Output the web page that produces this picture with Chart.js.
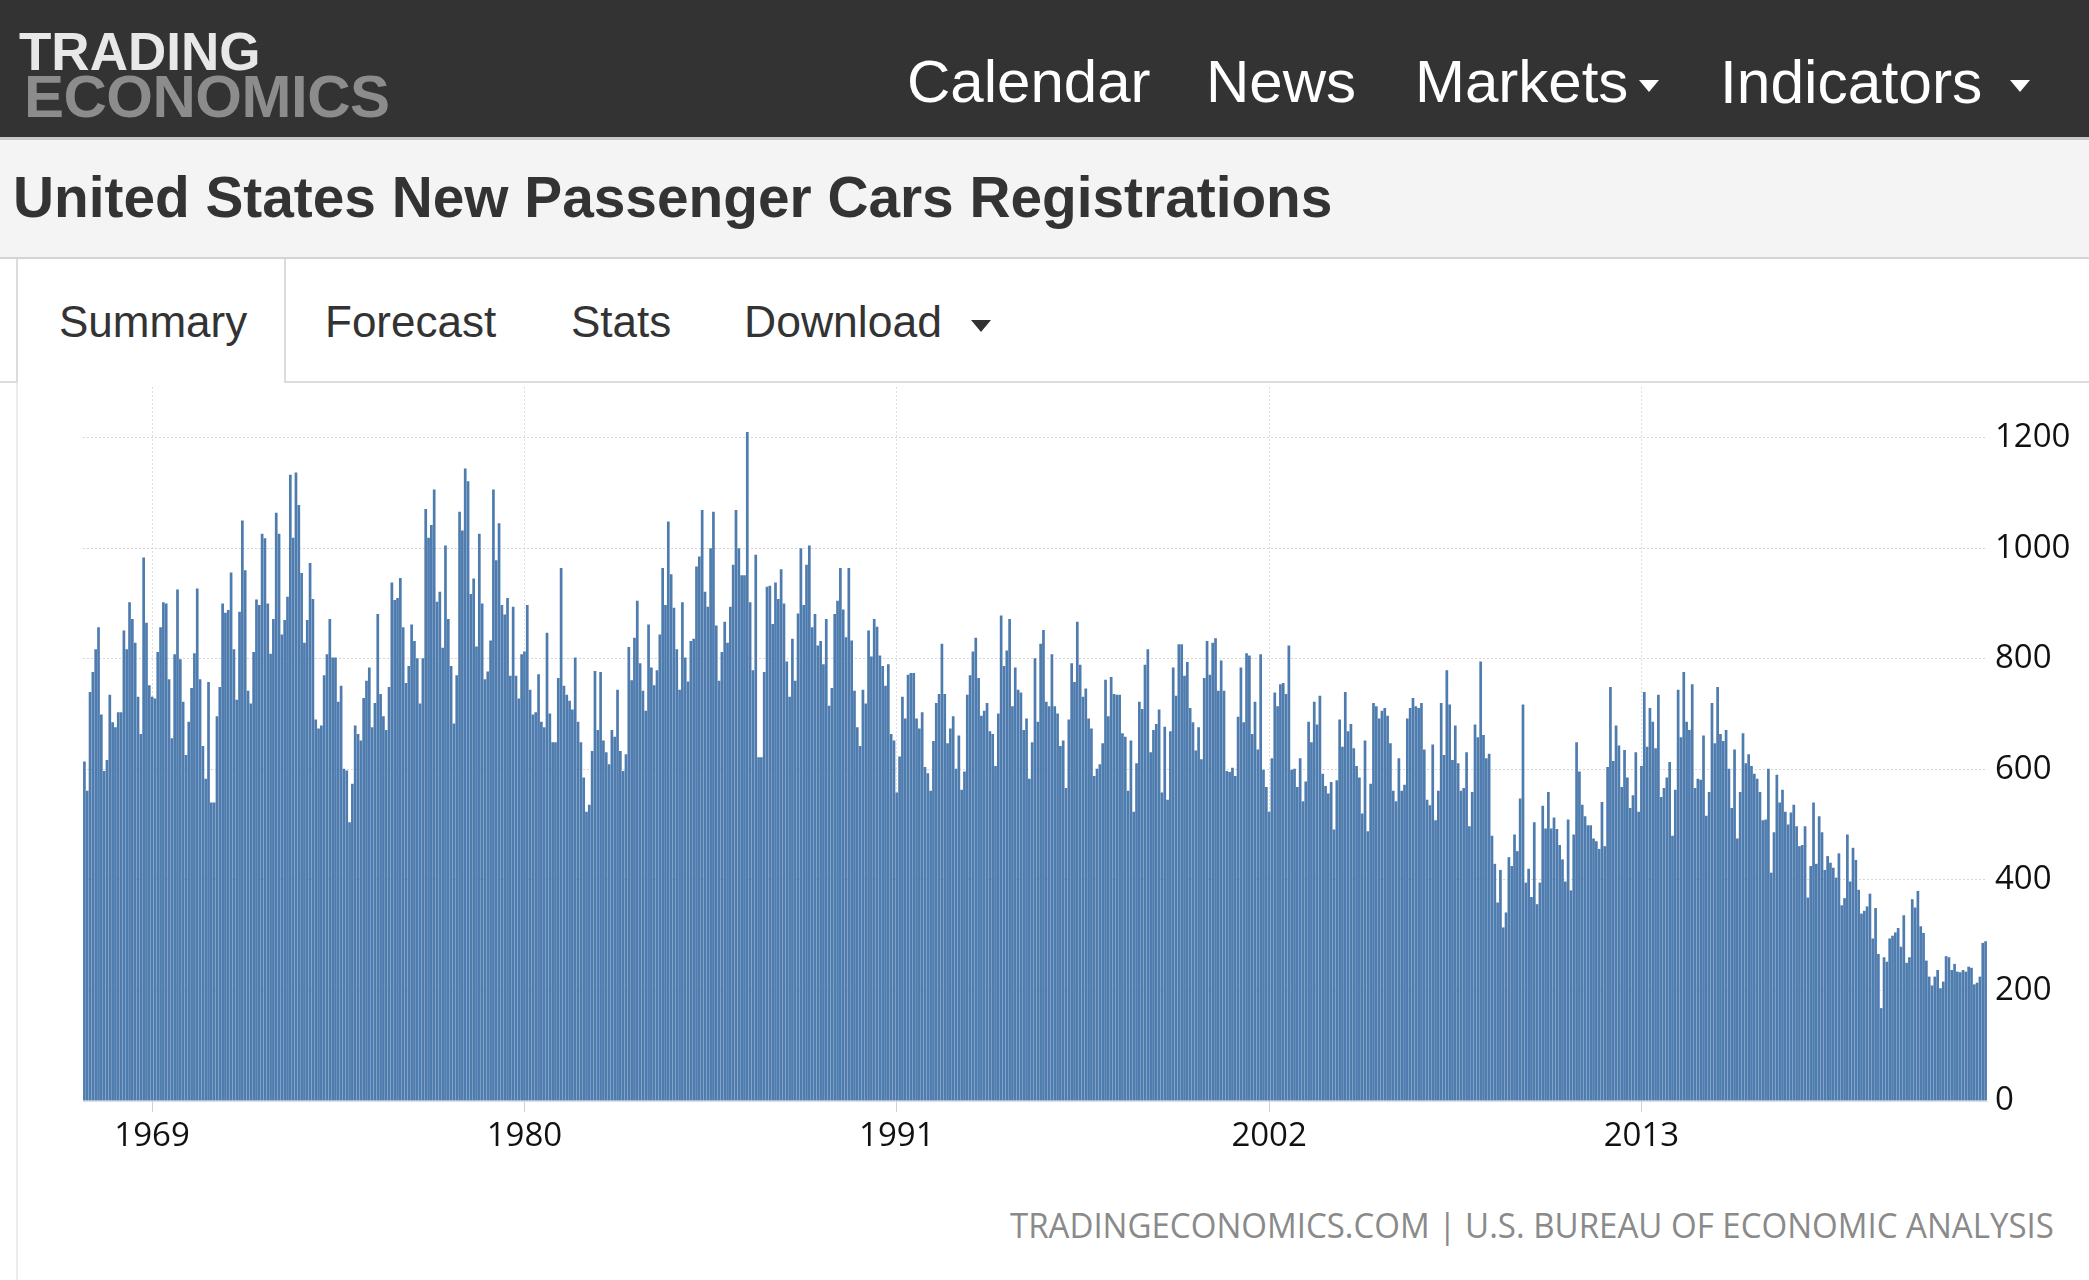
<!DOCTYPE html>
<html>
<head>
<meta charset="utf-8">
<title>United States New Passenger Cars Registrations</title>
<script src="https://cdn.jsdelivr.net/npm/chart.js@4.4.1/dist/chart.umd.min.js"></script>
<style>
    body {
        margin: 0;
        width: 2089px;
        height: 1280px;
        background: #fff;
        position: relative;
        overflow: hidden;
        font-family: "Liberation Sans", Arial, Helvetica, sans-serif;
    }
    .abs { position: absolute; line-height: 1; white-space: nowrap; }
    #topbar { position: absolute; left: 0; top: 0; width: 2089px; height: 137px; background: #333; border-bottom: 3px solid #c9c9c9; }
    #titlebar { position: absolute; left: 0; top: 140px; width: 2089px; height: 117px; background: #f4f4f4; border-bottom: 2px solid #d4d4d4; }
    .logo { font-weight: bold; }
    .nav { color: #fff; font-size: 60px; }
    .tab { color: #333; font-size: 44px; }
    .caret { position: absolute; width: 0; height: 0; border-left: 10px solid transparent; border-right: 10px solid transparent; }
    .line { position: absolute; background: #dcdcdc; }
    #chartBox { position: absolute; left: 0; top: 387px; width: 2089px; height: 800px; }
    #source { color: #8a8a8a; font-family: "Open Sans", sans-serif; font-size: 35px; transform-origin: right center; }
</style>
</head>
<body>
<div id="topbar"></div>
<div class="abs logo" style="left:19px; top:25px; font-size:53px; color:#e8e8e8;">TRADING</div>
<div class="abs logo" style="left:24px; top:67px; font-size:60px; color:#8c8c8c; letter-spacing:-0.5px;">ECONOMICS</div>
<div class="abs nav" style="left:907px; top:52px;">Calendar</div>
<div class="abs nav" style="left:1206px; top:52px;">News</div>
<div class="abs nav" style="left:1415px; top:52px;">Markets</div>
<div class="caret" style="left:1639px; top:80px; border-top:12px solid #fff;"></div>
<div class="abs nav" style="left:1720px; top:52px; font-size:60.5px;">Indicators</div>
<div class="caret" style="left:2010px; top:80px; border-top:12px solid #fff;"></div>

<div id="titlebar"></div>
<div class="abs" style="left:13px; top:170px; font-size:56.8px; font-weight:bold; color:#333;">United States New Passenger Cars Registrations</div>

<!-- tab strip -->
<div class="line" style="left:0; top:381px; width:17px; height:2px;"></div>
<div class="line" style="left:285px; top:381px; width:1804px; height:2px;"></div>
<div class="line" style="left:16px; top:259px; width:2px; height:124px;"></div>
<div class="line" style="left:284px; top:259px; width:2px; height:124px;"></div>
<div class="line" style="left:16px; top:383px; width:2px; height:897px; background:#ececec;"></div>
<div class="abs tab" style="left:59px; top:300px;">Summary</div>
<div class="abs tab" style="left:325px; top:300px;">Forecast</div>
<div class="abs tab" style="left:571px; top:300px;">Stats</div>
<div class="abs tab" style="left:744px; top:300px; font-size:44.5px;">Download</div>
<div class="caret" style="left:971px; top:320px; border-top:12px solid #333;"></div>

<div id="chartBox"><canvas id="regChart" width="2089" height="800"></canvas></div>
<div class="abs" id="source" style="right:35px; top:1207px;">TRADINGECONOMICS.COM | U.S. BUREAU OF ECONOMIC ANALYSIS</div>

<script>
// monthly registrations, thousands, Jan 1967 onwards
const regs1967to1976 = [
    614, 561, 740, 776, 817, 857, 699, 597, 617, 735, 685, 676,
    703, 703, 851, 817, 902, 872, 829, 731, 664, 983, 865, 752,
    731, 728, 812, 857, 902, 900, 763, 656, 808, 925, 799, 722,
    626, 686, 747, 810, 927, 763, 642, 583, 758, 540, 540, 696,
    749, 900, 883, 888, 956, 817, 726, 885, 1050, 960, 742, 719,
    812, 907, 897, 1026, 1018, 900, 809, 872, 1064, 1026, 844, 870,
    912, 1133, 1019, 1137, 1078, 955, 829, 870, 973, 908, 690, 674,
    679, 770, 808, 872, 802, 802, 722, 751, 601, 598, 504, 574,
    679, 664, 652, 729, 760, 784, 676, 720, 881, 736, 696, 671,
    749, 938, 906, 910, 946, 857, 756, 787, 862, 832, 801, 719
];
const regs1977to1986 = [
    801, 1071, 1019, 1042, 1106, 903, 921, 820, 1005, 872, 787, 683,
    770, 1066, 1032, 1144, 1121, 917, 945, 822, 1026, 900, 763, 777,
    833, 1106, 978, 1045, 897, 880, 910, 769, 894, 769, 728, 808,
    813, 897, 744, 699, 703, 772, 686, 676, 847, 701, 649, 649,
    765, 964, 751, 735, 724, 708, 802, 686, 649, 585, 523, 536,
    633, 778, 671, 776, 652, 631, 609, 671, 659, 744, 633, 597,
    627, 821, 761, 838, 905, 792, 742, 706, 862, 784, 752, 779,
    844, 964, 897, 1048, 953, 892, 817, 744, 902, 802, 759, 832,
    836, 967, 985, 1069, 921, 894, 1000, 1066, 860, 760, 812, 867,
    829, 894, 970, 1069, 1000, 951, 951, 1210, 902, 779, 988, 622
];
const regs1987to1996 = [
    622, 776, 930, 932, 863, 938, 908, 962, 900, 795, 731, 836,
    760, 882, 1000, 897, 970, 1005, 857, 881, 824, 832, 790, 872,
    715, 747, 881, 905, 964, 889, 839, 964, 833, 742, 676, 642,
    744, 719, 851, 804, 872, 858, 806, 787, 751, 790, 664, 652,
    558, 623, 731, 692, 771, 774, 774, 692, 674, 703, 604, 593,
    561, 651, 720, 736, 827, 736, 647, 674, 696, 601, 661, 563,
    596, 735, 770, 813, 838, 765, 697, 706, 720, 669, 664, 606,
    701, 878, 787, 815, 872, 714, 784, 744, 739, 671, 692, 583,
    649, 801, 686, 827, 852, 722, 714, 808, 714, 701, 642, 652,
    566, 690, 792, 758, 867, 789, 731, 746, 692, 674, 588, 601
];
const regs1997to2006 = [
    609, 647, 762, 696, 767, 736, 735, 735, 665, 659, 561, 652,
    523, 611, 722, 709, 789, 817, 631, 671, 682, 708, 558, 677,
    545, 669, 784, 733, 826, 826, 769, 794, 711, 685, 634, 676,
    618, 765, 832, 771, 829, 837, 742, 797, 742, 597, 595, 603,
    588, 695, 784, 685, 810, 806, 664, 722, 636, 808, 599, 568,
    523, 620, 739, 714, 754, 756, 736, 824, 599, 601, 568, 620,
    542, 578, 686, 649, 722, 681, 733, 592, 570, 556, 577, 491,
    580, 690, 641, 740, 669, 682, 638, 606, 585, 520, 652, 488,
    574, 720, 714, 692, 706, 711, 697, 647, 561, 542, 620, 561,
    572, 692, 711, 729, 714, 711, 720, 636, 545, 535, 645, 508
];
const regs2007to2016 = [
    561, 720, 626, 779, 717, 617, 679, 611, 561, 566, 631, 497,
    559, 681, 658, 795, 662, 620, 628, 480, 429, 359, 418, 314,
    341, 441, 425, 482, 452, 547, 717, 395, 420, 369, 504, 356,
    395, 534, 493, 559, 493, 513, 492, 463, 437, 397, 509, 381,
    482, 649, 596, 536, 515, 499, 499, 475, 470, 456, 541, 461,
    604, 749, 615, 679, 643, 568, 635, 585, 530, 553, 631, 523,
    606, 740, 641, 711, 686, 638, 735, 550, 566, 585, 613, 480,
    563, 744, 658, 776, 686, 671, 754, 566, 583, 581, 661, 516,
    559, 720, 647, 749, 664, 651, 671, 601, 530, 636, 475, 559,
    665, 611, 627, 606, 592, 583, 559, 508, 509, 601, 413, 486
];
const regs2017to2023 = [
    590, 540, 563, 523, 500, 522, 536, 497, 461, 463, 497, 368,
    425, 540, 429, 515, 486, 418, 443, 431, 422, 404, 448, 354,
    367, 482, 397, 458, 436, 382, 339, 344, 352, 375, 294, 349,
    266, 168, 260, 252, 294, 299, 305, 313, 279, 336, 250, 260,
    365, 350, 380, 316, 304, 254, 225, 209, 225, 237, 204, 216,
    262, 260, 237, 248, 234, 233, 237, 234, 243, 241, 211, 214,
    225, 286, 289
];

const startYear = 1967;
const yearTicks = ['1969', '1980', '1991', '2002', '2013'];
const yTicks = [0, 200, 400, 600, 800, 1000, 1200];

const registrations = [].concat(regs1967to1976, regs1977to1986, regs1987to1996,
    regs1997to2006, regs2007to2016, regs2017to2023);

// one label per month, e.g. 1969-01
const months = registrations.map((_, i) => {
    const y = startYear + Math.floor(i / 12);
    const m = (i % 12) + 1;
    return y + '-' + (m < 10 ? '0' + m : m);
});

const tickFont = { family: '"Open Sans", sans-serif', size: 33 };

new Chart(document.getElementById('regChart').getContext('2d'), {
    type: 'bar',
    data: {
        labels: months,
        datasets: [{
            label: 'New Passenger Cars Registrations',
            data: registrations,
            backgroundColor: '#4f7cae',
            borderWidth: 0,
            barPercentage: 0.96,
            categoryPercentage: 1
        }]
    },
    options: {
        responsive: false,
        animation: false,
        layout: { padding: { left: 83, right: 0, top: 0, bottom: 0 } },
        plugins: { legend: { display: false }, tooltip: { enabled: false } },
        scales: {
            x: {
                grid: { offset: false, color: '#dedede', tickColor: '#d0d0d0', tickLength: 11 },
                border: { display: true, color: '#d8dde6', dash: [2, 2] },
                ticks: {
                    autoSkip: false,
                    maxRotation: 0,
                    padding: 5,
                    color: '#111',
                    font: tickFont,
                    callback: function (v) { return this.getLabelForValue(v).slice(0, 4); }
                },
                afterBuildTicks: s => {
                    s.ticks = s.ticks.filter(t => {
                        const lab = months[t.value];
                        return lab.endsWith('-01') && yearTicks.includes(lab.slice(0, 4));
                    });
                },
                afterFit: s => { s.height = 86; s.paddingLeft = 0; s.paddingRight = 0; }
            },
            y: {
                position: 'right',
                min: 0,
                max: 1291.5,
                grid: { color: '#d6d6d6', drawTicks: false },
                border: { display: false, dash: [2, 2] },
                ticks: { padding: 8, color: '#111', font: tickFont, callback: v => String(v) },
                afterBuildTicks: s => { s.ticks = yTicks.map(v => ({ value: v })); },
                afterFit: s => { s.width = 102; s.paddingTop = 0; s.paddingBottom = 0; }
            }
        }
    }
});

// squeeze the source line to the width it has in the original
document.fonts.ready.then(() => {
    const el = document.getElementById('source');
    const w = el.getBoundingClientRect().width;
    el.style.transform = 'scaleX(' + (1044 / w).toFixed(3) + ')';
});
</script>
</body>
</html>
